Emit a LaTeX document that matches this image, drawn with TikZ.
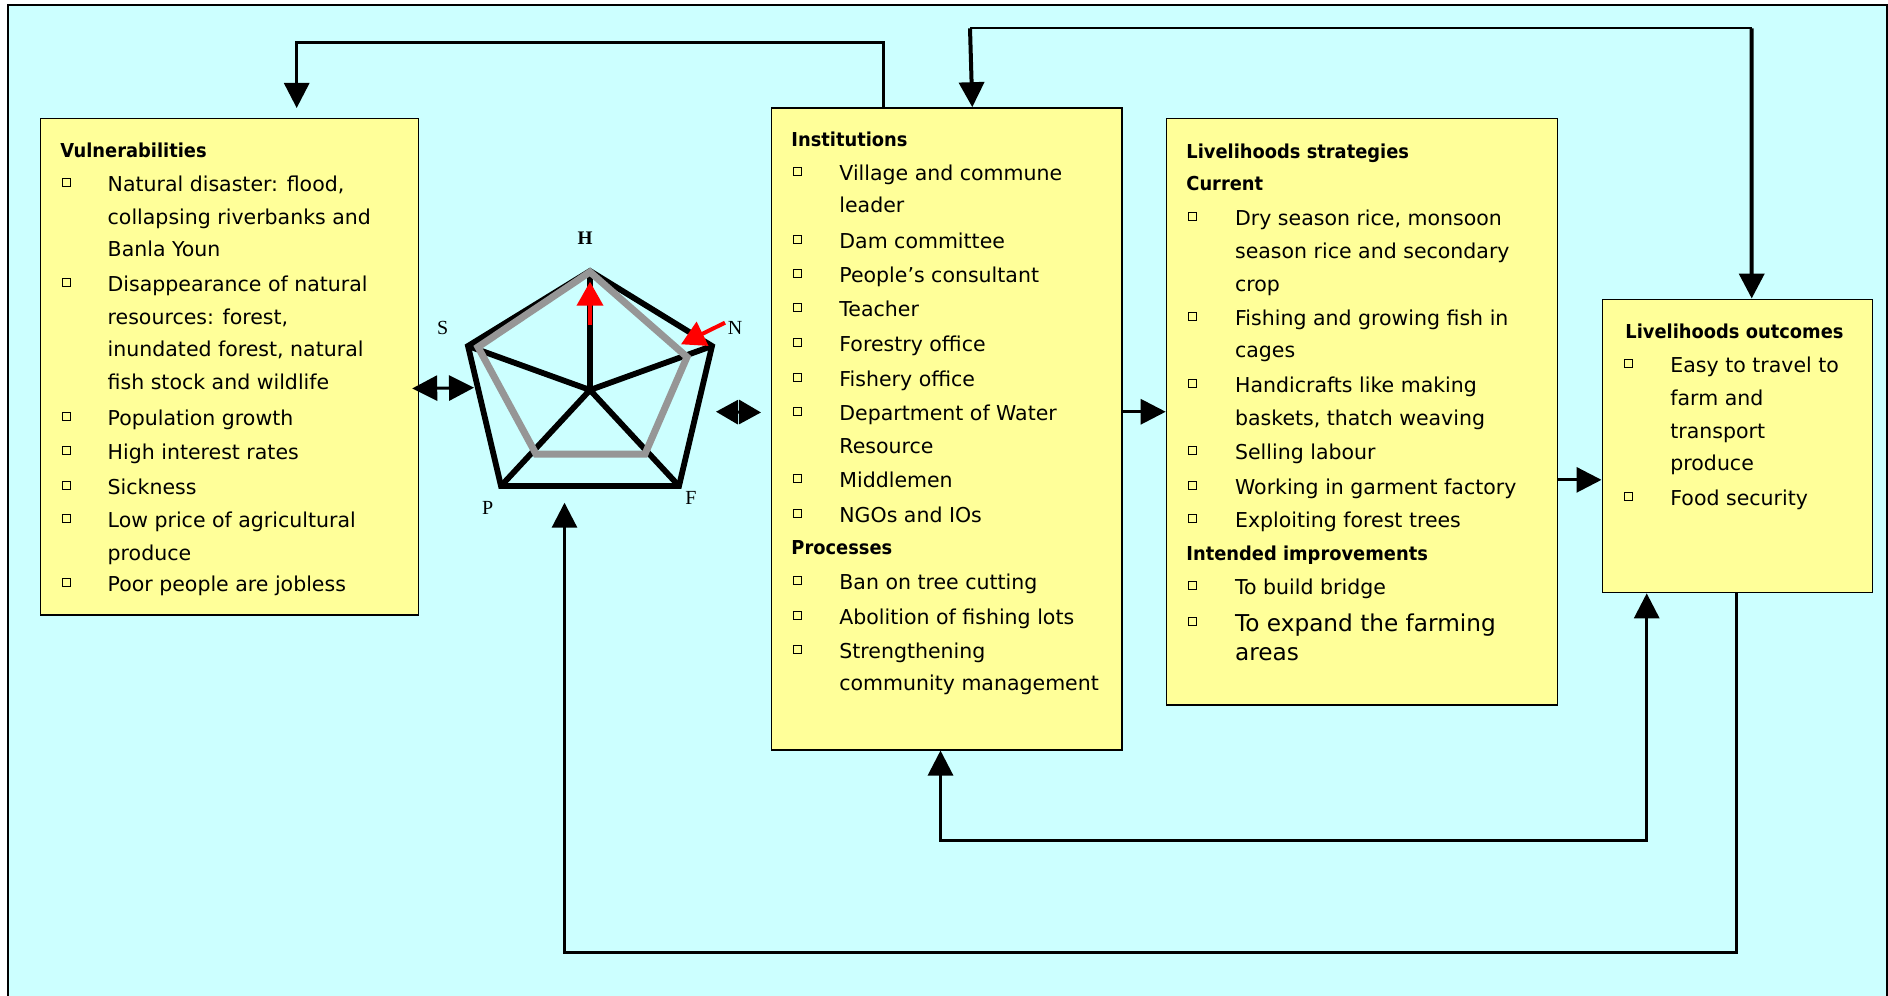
\documentclass[tikz,border=0pt]{standalone}
\usepackage{fontspec}
\setmainfont{DejaVu Sans}
\newfontfamily\titlefont[FakeStretch=0.93]{DejaVu Sans Bold}
\newfontfamily\labserif{Liberation Serif}
\usetikzlibrary{arrows.meta,calc}
\definecolor{bgcyan}{HTML}{CCFFFF}
\definecolor{boxyellow}{HTML}{FFFF99}
\definecolor{pentgray}{HTML}{969696}
\newcommand\BI[5]{\node[bul] (#1b) at (#2,#4-9) {};\node[txt] (#1) at (#3,#4) {#5};}
\newcommand\TL[4]{\node[txt] (#1) at (#2,#3) {#4};}
\begin{document}
\begin{tikzpicture}[x=0.5pt,y=-0.5pt,
  >={Triangle[length=12.5pt,width=12.5pt]},
  box/.style={draw=black,line width=0.75pt,fill=boxyellow,inner sep=0pt,anchor=north west},
  txt/.style={anchor=base west,inner sep=0pt,font=\fontsize{10.25pt}{12pt}\selectfont},
  bigtxt/.style={anchor=base west,inner sep=0pt,font=\fontsize{11.6pt}{14pt}\selectfont},
  ttl/.style={anchor=base west,inner sep=0pt,font=\titlefont\fontsize{9.6pt}{12pt}\selectfont},
  bul/.style={draw=black,line width=0.5pt,minimum size=4pt,inner sep=0pt},
  conn/.style={draw=black,line width=1.5pt,line join=miter},
  pent/.style={draw=black,line width=2.9pt,line join=miter},
  grayp/.style={draw=pentgray,line width=3.5pt,line join=miter},
  redarr/.style={draw=red,line width=2pt,-{Triangle[length=12pt,width=13pt]}},
  plab/.style={inner sep=0pt,font=\labserif\fontsize{10pt}{11pt}\selectfont}]
\useasboundingbox (0,0) rectangle (1888,995);
\clip (0,0) rectangle (1888,995);
\fill[white] (0,0) rectangle (1888,995);
\draw[line width=1pt,fill=bgcyan] (8,5) rectangle (1887,1010);

% boxes
\node[box,minimum width=189.05pt,minimum height=248pt] (vul) at (39.7,118) {};
\node[box,minimum width=175.25pt,minimum height=320.9pt] (ins) at (770.5,107.2) {};
\node[box,minimum width=195.5pt,minimum height=293pt] (str) at (1165.7,118) {};
\node[box,minimum width=135.1pt,minimum height=146.65pt] (out) at (1601.5,298.5) {};

% Vulnerabilities
\node[ttl] (vt) at (60,157.3) {Vulnerabilities};
\BI{v1}{66}{107.3}{191.7}{Natural disaster: flood,}
\TL{v1a}{107.3}{224}{collapsing riverbanks and}
\TL{v1c}{107.3}{256.7}{Banla Youn}
\BI{v2}{66}{107.3}{291.7}{Disappearance of natural}
\TL{v2a}{107.3}{324.3}{resources: forest,}
\TL{v2c}{107.3}{356}{inundated forest, natural}
\TL{v2d}{107.3}{389.3}{fish stock and wildlife}
\BI{v3}{66}{107.3}{425}{Population growth}
\BI{v4}{66}{107.3}{459}{High interest rates}
\BI{v5}{66}{107.3}{494}{Sickness}
\BI{v6}{66}{107.3}{527.7}{Low price of agricultural}
\TL{v6a}{107.3}{560}{produce}
\BI{v7}{66}{107.3}{591}{Poor people are jobless}

% Institutions
\node[ttl] (it) at (791,146.3) {Institutions};
\BI{i1}{797}{839}{180.8}{Village and commune}
\TL{i1a}{839}{212.8}{leader}
\BI{i2}{797}{839}{248.1}{Dam committee}
\BI{i3}{797}{839}{282.2}{People's consultant}
\BI{i4}{797}{839}{316.7}{Teacher}
\BI{i5}{797}{839}{351.3}{Forestry office}
\BI{i6}{797}{839}{386.2}{Fishery office}
\BI{i7}{797}{839}{420.7}{Department of Water}
\TL{i7a}{839}{453.5}{Resource}
\BI{i8}{797}{839}{487.2}{Middlemen}
\BI{i9}{797}{839}{522.1}{NGOs and IOs}
\node[ttl] (pt) at (791,554.5) {Processes};
\BI{p1}{797}{839}{589.5}{Ban on tree cutting}
\BI{p2}{797}{839}{624}{Abolition of fishing lots}
\BI{p3}{797}{839}{658.5}{Strengthening}
\TL{p3a}{839}{690.5}{community management}

% Livelihoods strategies
\node[ttl] (st) at (1186,158.5) {Livelihoods strategies};
\node[ttl] (sc) at (1186,190.9) {Current};
\BI{s1}{1192.5}{1234.7}{225.7}{Dry season rice, monsoon}
\TL{s1a}{1234.7}{258.2}{season rice and secondary}
\TL{s1c}{1234.7}{291}{crop}
\BI{s2}{1192.5}{1234.7}{325.4}{Fishing and growing fish in}
\TL{s2a}{1234.7}{357.8}{cages}
\BI{s3}{1192.5}{1234.7}{392.6}{Handicrafts like making}
\TL{s3a}{1234.7}{425}{baskets, thatch weaving}
\BI{s4}{1192.5}{1234.7}{459}{Selling labour}
\BI{s5}{1192.5}{1234.7}{494.2}{Working in garment factory}
\BI{s6}{1192.5}{1234.7}{527.8}{Exploiting forest trees}
\node[ttl] (si) at (1186,560.7) {Intended improvements};
\BI{s7}{1192.5}{1234.7}{594.3}{To build bridge}
\node[bul] (s8b) at (1192.5,621) {};
\node[bigtxt] (s8) at (1234.7,631) {To expand the farming};
\node[bigtxt] (s8a) at (1234.7,660.7) {areas};

% Livelihoods outcomes
\node[ttl] (ot) at (1625,338) {Livelihoods outcomes};
\BI{o1}{1628.5}{1670}{372.5}{Easy to travel to}
\TL{o1a}{1670}{405.3}{farm and}
\TL{o1c}{1670}{438.1}{transport}
\TL{o1d}{1670}{470.5}{produce}
\BI{o2}{1628.5}{1670}{505.3}{Food security}

% pentagon
\coordinate (O) at (590,390);
\coordinate (H) at (590,271);
\coordinate (N) at (712,346);
\coordinate (F) at (679,486);
\coordinate (P) at (501,486);
\coordinate (S) at (468,346);
\draw[pent] (H) -- (N) -- (F) -- (P) -- (S) -- cycle;
\draw[pent] (O) -- (H) (O) -- (N) (O) -- (F) (O) -- (P) (O) -- (S);
\coordinate (g1) at (590,272);
\coordinate (g2) at (687,357);
\coordinate (g3) at (645,454);
\coordinate (g4) at (536,454);
\coordinate (g5) at (478,347);
\draw[grayp] (g1) -- (g2) -- (g3) -- (g4) -- (g5) -- cycle;
\coordinate (r1) at (590,325);
\coordinate (r1t) at (590,281.7);
\coordinate (r2) at (725,322.7);
\coordinate (r2t) at (681,344.3);
\draw[redarr] (r1) -- (r1t);
\draw[redarr] (r2) -- (r2t);
\node[plab,font=\labserif\bfseries\fontsize{9.6pt}{11pt}\selectfont] (lH) at (585,238) {H};
\node[plab] (lS) at (442.7,328) {S};
\node[plab] (lN) at (735,328) {N};
\node[plab] (lF) at (691,498) {F};
\node[plab] (lP) at (487.7,508) {P};

% connectors
\draw[conn,->] ([xshift=56.25pt]ins.north west) -- ++(0,-64.9) -| ([xshift=128.5pt,yshift=5pt]vul.north west);
\coordinate (t1) at (970,28.3);
\coordinate (t2) at (1751.7,28.3);
\draw[draw=black,line width=1pt] (t1) -- (t2);
\draw[conn,line width=2pt,->] (t1) -- ([xshift=100.9pt]ins.north west);
\draw[conn,line width=2pt,->] (t2) -- ([xshift=75.1pt]out.north west);
\coordinate (sL) at (474,387.7);
\draw[conn,<->] ([xshift=-3.55pt,yshift=-10.85pt]vul.east) -- (sL);
\coordinate (pR) at (716,411.7);
\draw[conn,{Triangle[length=11pt,width=12pt]}-{Triangle[length=11pt,width=12pt]}] (pR) -- ([xshift=-4.75pt,yshift=8.2pt]ins.west);
\draw[conn,->] (ins.east |- str.west) -- (str.west);
\coordinate (o6) at ([yshift=-16.975pt]out.west);
\draw[conn,->] (str.east |- o6) -- (o6);
\coordinate (bl) at (564.5,952);
\coordinate (pB) at (564.5,502.7);
\draw[conn,->] ([xshift=67.35pt]out.south west) |- (bl) -- (pB);
\draw[conn,<->] ([xshift=85pt]ins.south west) -- ++(0,90) -| ([xshift=22.6pt]out.south west);
\end{tikzpicture}
\end{document}
